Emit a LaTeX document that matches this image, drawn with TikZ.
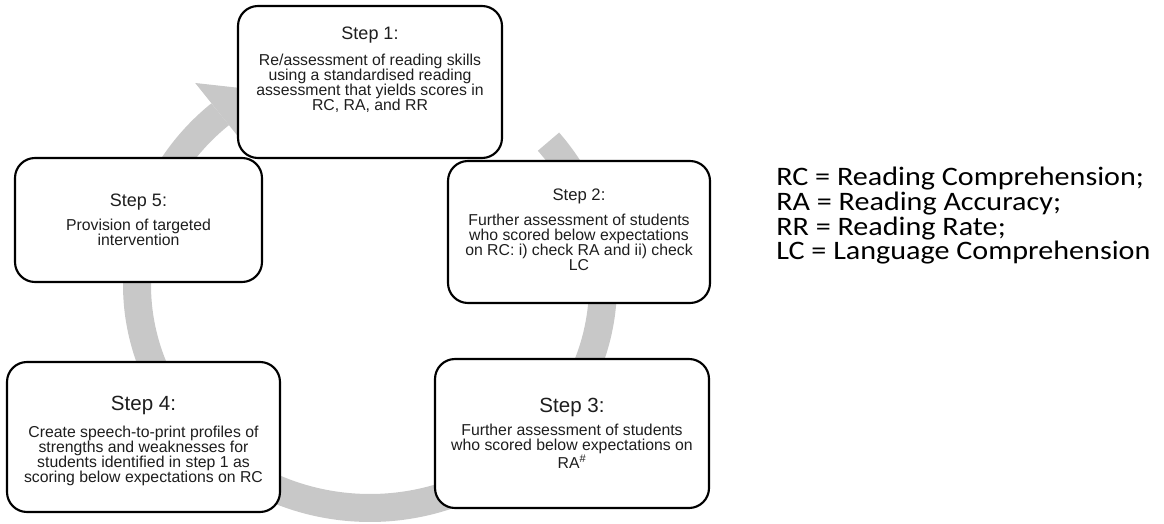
\documentclass[tikz,border=0pt]{standalone}
\usepackage{fontspec}
\setmainfont{Liberation Sans}
\newfontfamily\legendfont[FakeStretch=1.13]{Carlito}
\definecolor{ringgray}{RGB}{200,200,200}
\definecolor{txtcol}{RGB}{30,30,30}
\newcommand\pxu{0.75pt}
\begin{document}
\begin{tikzpicture}[x=0.75pt,y=-0.75pt,
  stepbox/.style={draw=black, line width=1.6pt, fill=white, rounded corners=15pt, inner sep=0pt},
  ring/.style={draw=ringgray, line width=21pt},
  stephead/.style={font=\fontsize{#1}{#1}\selectfont, anchor=base, inner sep=0pt, text=txtcol},
  stepbody/.style={font=\fontsize{11.85}{11.25}\selectfont, align=center, anchor=base, inner sep=0pt, text=txtcol},
  legend/.style={font=\legendfont\fontsize{20}{18.3}\selectfont, anchor=base west, inner sep=0pt, text=black}]
\useasboundingbox (0,0) rectangle (1164,524);

% circular arrow
\draw[ring] plot[domain=-40:230, samples=220] ({370+233*cos(\x)}, {285+223*sin(\x)});
\coordinate (hb1) at (195.2,83.0);
\coordinate (htip) at (251.4,89.2);
\coordinate (hb2) at (245.2,145.4);
\fill[ringgray] (hb1) -- (htip) -- (hb2) -- cycle;

% boxes
\node[stepbox, minimum width=264*\pxu, minimum height=152*\pxu] (s1) at (370,82) {};
\node[stepbox, minimum width=262*\pxu, minimum height=142*\pxu] (s2) at (579,232) {};
\node[stepbox, minimum width=274*\pxu, minimum height=149*\pxu] (s3) at (572,433.5) {};
\node[stepbox, minimum width=273*\pxu, minimum height=150*\pxu] (s4) at (143.5,437) {};
\node[stepbox, minimum width=247*\pxu, minimum height=124*\pxu] (s5) at (138.5,220) {};

% texts (body anchor = baseline of last line)
\node[stephead=13.5] (h1) at (370,39.5) {Step 1:};
\node[stepbody] (b1) at (370,110.7) {Re/assessment of reading skills\\using a standardised reading\\assessment that yields scores in\\RC, RA, and RR};

\node[stephead=12.5] (h2) at (579,201) {Step 2:};
\node[stepbody] (b2) at (579,270.7) {Further assessment of students\\who scored below expectations\\on RC: i) check RA and ii) check\\LC};

\node[stephead=15.4] (h3) at (572,412.4) {Step 3:};
\node[stepbody] (b3) at (572,468.4) {Further assessment of students\\who scored below expectations on\\RA\textsuperscript{\#}};

\node[stephead=15.4] (h4) at (143.5,410) {Step 4:};
\node[stepbody] (b4) at (143.5,482.4) {Create speech-to-print profiles of\\strengths and weaknesses for\\students identified in step 1 as\\scoring below expectations on RC};

\node[stephead=13.5] (h5) at (138.5,206.5) {Step 5:};
\node[stepbody] (b5) at (138.5,245.7) {Provision of targeted\\intervention};

% legend
\node[legend] (l1) at (776,186) {RC = Reading Comprehension;};
\node[legend] (l2) at (776,210) {RA = Reading Accuracy;};
\node[legend] (l3) at (776,235) {RR = Reading Rate;};
\node[legend] (l4) at (776,259) {LC = Language Comprehension};
\end{tikzpicture}
\end{document}
